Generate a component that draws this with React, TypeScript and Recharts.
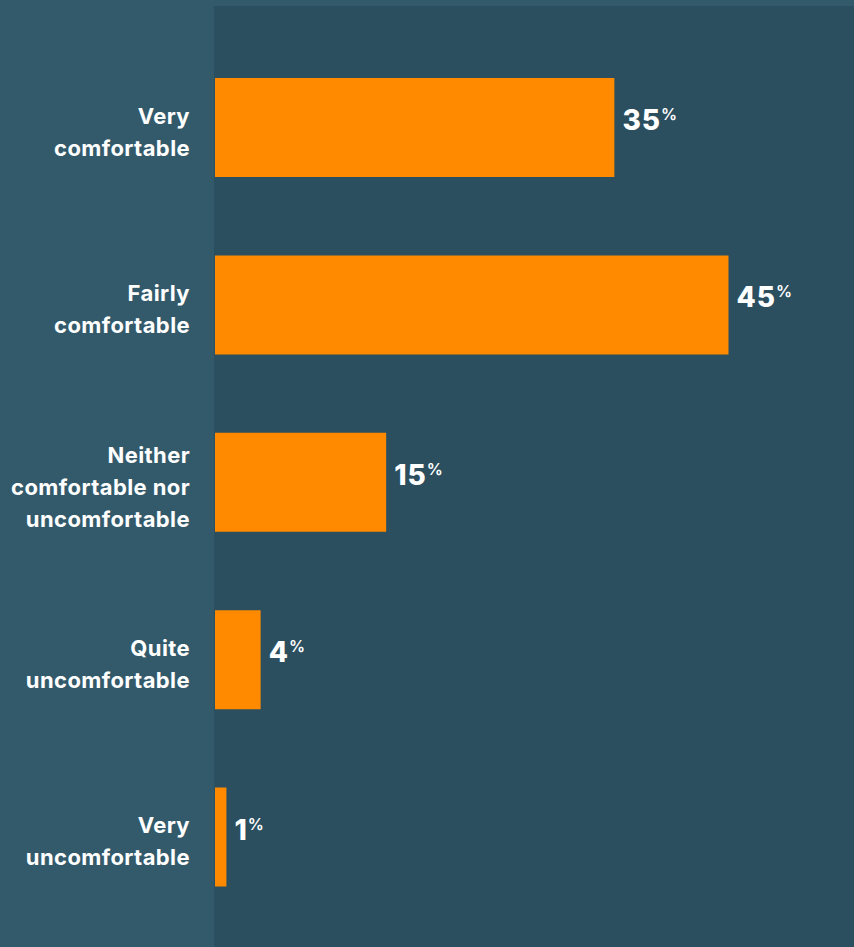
import { BarChart, Bar, XAxis, YAxis, LabelList } from 'recharts';

const categories = [
  'Very\ncomfortable',
  'Fairly\ncomfortable',
  'Neither\ncomfortable nor\nuncomfortable',
  'Quite\nuncomfortable',
  'Very\nuncomfortable',
];
const shares = [35, 45, 15, 4, 1];

const data = categories.map((c, i) => ({ name: c, value: shares[i] }));

const FONT = 'Inter, "Noto Sans", sans-serif';

function CategoryTick({ x, y, payload }: any) {
  const lines = String(payload.value).split('\n');
  const n = lines.length;
  return (
    <text x={x - 17} y={y} textAnchor="end" fill="#ffffff" fontFamily={FONT} fontWeight={700} fontSize={22} letterSpacing={0.4}>
      {lines.map((l, i) => (
        <tspan key={i} x={x - 17} y={y + 12 + 32 * (i - (n - 1) / 2)}>
          {l}
        </tspan>
      ))}
    </text>
  );
}

function ValueLabel({ x, y, width, height, value }: any) {
  const cy = y + height / 2 + 2.5;
  return (
    <text x={x + width + 8} y={cy} fill="#ffffff" fontFamily={FONT} fontWeight={800}>
      <tspan fontSize={28} letterSpacing={1}>{value}</tspan>
      <tspan fontSize={16} fontWeight={600} dy={-10}>%</tspan>
    </text>
  );
}

export default function App() {
  return (
    <div style={{ position: 'absolute', left: 0, top: 0, width: 854, height: 947, background: '#335a6b', overflow: 'hidden' }}>
      <div style={{ position: 'absolute', left: 214, top: 6, width: 640, height: 941, background: '#2b4f5f' }} />
      <div style={{ position: 'absolute', left: 0, top: 0 }}>
        <BarChart
          width={854}
          height={947}
          layout="vertical"
          data={data}
          margin={{ top: 39, right: 0, bottom: 21, left: 0 }}
          barSize={99}
        >
          <XAxis type="number" domain={[0, 56]} hide />
          <YAxis
            type="category"
            dataKey="name"
            width={215}
            axisLine={false}
            tickLine={false}
            tick={<CategoryTick />}
            interval={0}
          />
          <Bar dataKey="value" fill="#ff8a00" isAnimationActive={false}>
            <LabelList dataKey="value" content={<ValueLabel />} />
          </Bar>
        </BarChart>
      </div>
    </div>
  );
}
